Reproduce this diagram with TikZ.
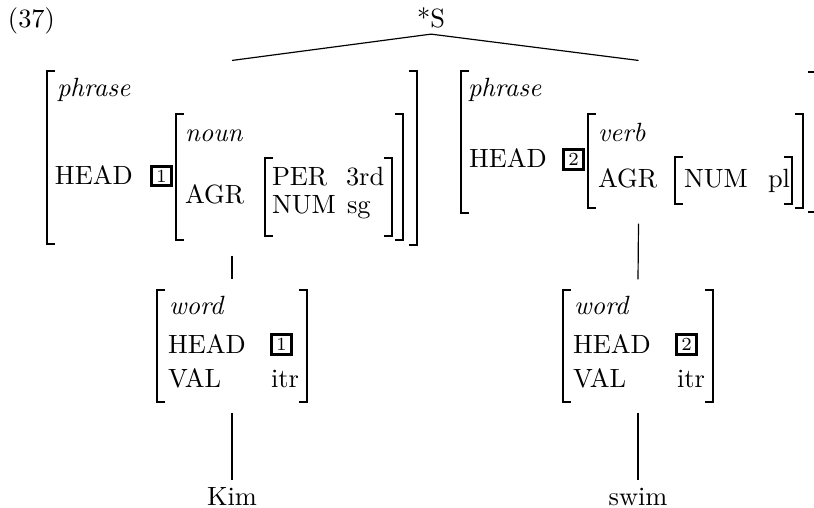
\documentclass[tikz,border=0pt]{standalone}
\usetikzlibrary{fit}
\newcommand\avmL[3]{\draw[brk] (#1+8,#2) -- (#1,#2) -- (#1,#3) -- (#1+8,#3);}
\newcommand\avmR[3]{\draw[brk] (#1-8,#2) -- (#1,#2) -- (#1,#3) -- (#1-8,#3);}
\begin{document}
\begin{tikzpicture}[x=0.3788pt,y=-0.3788pt,
  txt/.style={anchor=base west,inner sep=0pt,outer sep=0pt},
  brk/.style={line width=0.65pt},
  tagbox/.style={draw,line width=1pt,font=\scriptsize,minimum size=7.4pt,inner sep=0pt},
  avm/.style={inner sep=0pt,outer sep=4pt},
  branch/.style={line width=0.45pt},
  leaf/.style={anchor=base,inner sep=2.6pt}]
\useasboundingbox (0,0) rectangle (814,508);

% example number and root
\node[txt] (exno) at (8,28) {(37)};
\node[anchor=base,inner sep=1.9pt] (S) at (431,28) {*S};

% ---- left phrase AVM ----
\avmL{47}{71}{244} \avmR{417}{71}{245}
\node[txt] (lp1) at (57,97) {\textit{phrase}};
\node[txt] (lp2) at (55,184) {HEAD};
\node[tagbox] (lt1) at (161.5,176) {1};
\avmL{176}{114}{240} \avmR{403}{114}{240}
\node[txt] (lp3) at (185,142) {\textit{noun}};
\node[txt] (lp4) at (185,203) {AGR};
\avmL{265}{158}{236} \avmR{392}{158}{236}
\node[txt] (lp5) at (272,185) {PER};
\node[txt] (lp6) at (346,185) {3rd};
\node[txt] (lp7) at (272,214) {NUM};
\node[txt] (lp8) at (347,214) {sg};
\node[avm, fit={(47,71) (417,245)}] (lphr) {};

% ---- right phrase AVM ----
\avmL{461}{71}{213}
\begin{scope}
  \clip (0,0) rectangle (814,508);
  \avmR{816}{72}{212}
\end{scope}
\node[txt] (rp1) at (468,97) {\textit{phrase}};
\node[txt] (rp2) at (469,168) {HEAD};
\node[tagbox] (rt2) at (573.5,159.5) {2};
\avmL{588}{114}{208} \avmR{803}{114}{208}
\node[txt] (rp3) at (598,142) {\textit{verb}};
\node[txt] (rp4) at (598,188) {AGR};
\avmL{675}{157}{204} \avmR{792}{157}{204}
\node[txt] (rp5) at (684,188) {NUM};
\node[txt] (rp6) at (768,188) {pl};
\node[avm, fit={(461,71) (816,213)}] (rphr) {};

% ---- left word AVM ----
\avmL{157}{290}{402} \avmR{307}{290}{402}
\node[txt] (lw1) at (169,314) {\textit{word}};
\node[txt] (lw2) at (168,353) {HEAD};
\node[tagbox] (lt1b) at (281.5,344.5) {1};
\node[txt] (lw3) at (168,387) {VAL};
\node[txt] (lw4) at (271,387) {itr};
\node[avm, fit={(157,290) (307,402)}] (lwd) {};

% ---- right word AVM ----
\avmL{563}{290}{402} \avmR{713}{290}{402}
\node[txt] (rw1) at (574,314) {\textit{word}};
\node[txt] (rw2) at (573,353) {HEAD};
\node[tagbox] (rt2b) at (686.5,344.5) {2};
\node[txt] (rw3) at (573,387) {VAL};
\node[txt] (rw4) at (677,387) {itr};
\node[avm, fit={(563,290) (713,402)}] (rwd) {};

% leaves
\node[leaf] (kim) at (232,505) {Kim};
\node[leaf] (swim) at (638,505) {swim};

% branches
\draw[branch] (S.south) -- (lphr.north);
\draw[branch] (S.south) -- (rphr.north);
\draw[branch] (lphr.south) -- (lwd.north);
\draw[branch] (rphr.south) -- (rwd.north);
\draw[branch] (lwd.south) -- (kim.north);
\draw[branch] (rwd.south) -- (swim.north);
\end{tikzpicture}
\end{document}
